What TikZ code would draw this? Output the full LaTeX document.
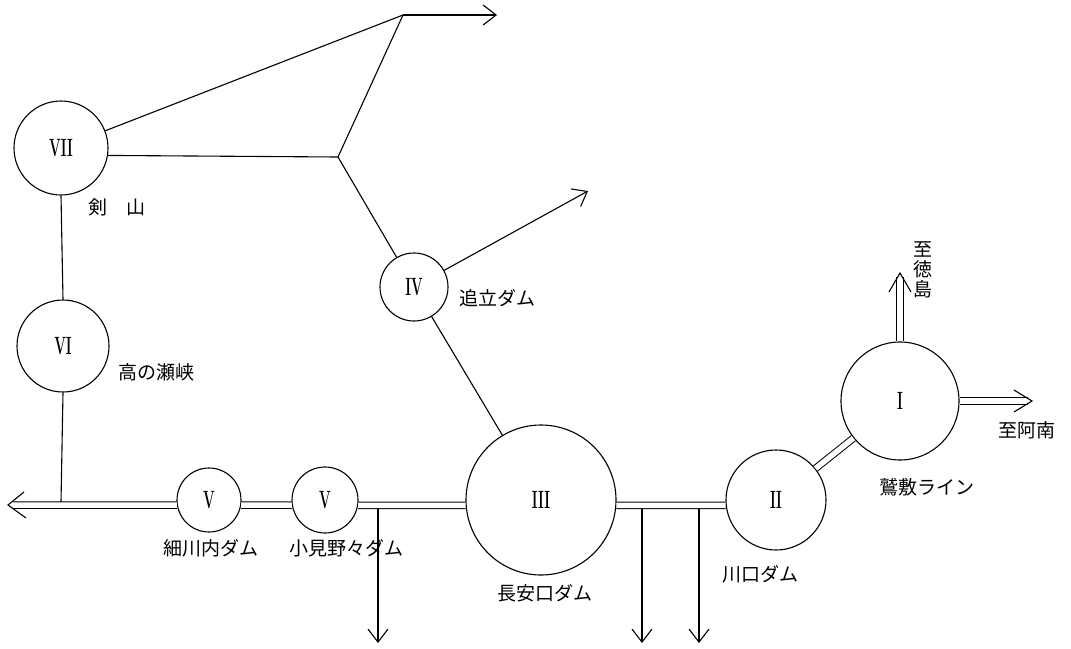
\documentclass[tikz,border=0pt]{standalone}
\usepackage{fontspec}
\newfontfamily\jp{Noto Sans CJK JP}
\usetikzlibrary{arrows.meta,calc}
\newcommand\rnum[1]{\scalebox{0.55}[1]{#1}}
\begin{document}
\begin{tikzpicture}[x=1pt,y=-1pt,line width=1.1pt,
  stn/.style={circle,draw,inner sep=0pt,minimum size=#1,font=\bfseries\fontsize{25}{25}\selectfont},
  lbl/.style={font=\jp\fontsize{19}{20}\selectfont,inner sep=0pt},
  dbl/.style={double,double distance=5.5pt,line width=1pt},
  arr/.style={-{Straight Barb[length=13pt,width=20pt]}}]
\fill[white] (0,0) rectangle (1071,648);
\useasboundingbox (0,0) rectangle (1071,648);
% stations
\node[stn=94]  (c7)  at (61,148)  {\rnum{VII}};
\node[stn=92]  (c6)  at (63,346)  {\rnum{VI}};
\node[stn=68]  (c4)  at (414,287) {\rnum{IV}};
\node[stn=64]  (c5a) at (209,500) {\rnum{V}};
\node[stn=66]  (c5b) at (325,500) {\rnum{V}};
\node[stn=150] (c3)  at (541,500) {\rnum{III}};
\node[stn=100] (c2)  at (776,500) {\rnum{II}};
\node[stn=118] (c1)  at (900,401) {\rnum{I}};
% coordinates
\coordinate (jt) at (403,15);
\coordinate (tA) at (497,15);
\coordinate (jm) at (338,157);
\coordinate (t4) at (588,191);
\coordinate (eL) at (13,505);
\coordinate (tL) at (8,505);
\coordinate (j6) at (61,502);
\coordinate (d1) at (378,508);
\coordinate (t1) at (378,643);
\coordinate (d2) at (642,509);
\coordinate (t2) at (642,643);
\coordinate (d3) at (699,509);
\coordinate (t3) at (699,643);
\coordinate (eU) at (900,277);
\coordinate (tU) at (900,273);
\coordinate (eR) at (1028,401);
\coordinate (tR) at (1032,401);
% thin lines
\draw (c7.south) -- (c6.north);
\draw (c6.south) -- (j6);
\draw (c7) -- (jt);
\draw[arr] (jt) -- (tA);
\draw (jt) -- (jm);
\draw (c7.-9) -- (jm);
\draw (jm) -- (c4);
\draw[arr] (c4) -- (t4);
\draw (c4) -- (c3);
\draw[arr] (d1) -- (t1);
\draw[arr] (d2) -- (t2);
\draw[arr] (d3) -- (t3);
% double lines
\draw[dbl] (c5a.189) -- (eL);
\draw[dbl] (c5a.-9) -- (c5b.189);
\draw[dbl] (c5b.-9) -- (c3.184);
\draw[dbl] (c3.-4.6) -- (c2.186.9);
\draw[dbl] (c2) -- (c1);
\draw[dbl] (c1.north) -- (eU);
\draw[dbl] (c1.east) -- (eR);
% open heads of the double arrows
\draw ($(tL)+(16,-13)$) -- (tL) -- ++(18,13);
\draw ($(tU)+(-11,19)$) -- (tU) -- ++(11,19);
\draw ($(tR)+(-18,-11)$) -- (tR) -- ++(-18,11);
% labels
\node[lbl] (l7) at (117,207) {剣　山};
\node[lbl] (l6) at (156,372) {高の瀬峡};
\node[lbl] (l4) at (497,298) {追立ダム};
\node[lbl] (l5a) at (211,548) {細川内ダム};
\node[lbl] (l5b) at (346,548) {小見野々ダム};
\node[lbl] (l3) at (545,593) {長安口ダム};
\node[lbl] (l2) at (760,574) {川口ダム};
\node[lbl] (l1) at (927,487) {鷲敷ライン};
\node[lbl] (lR) at (1027,430) {至阿南};
\node[lbl,align=center] (lU) at (923,270) {至\\徳\\島};
\end{tikzpicture}
\end{document}
